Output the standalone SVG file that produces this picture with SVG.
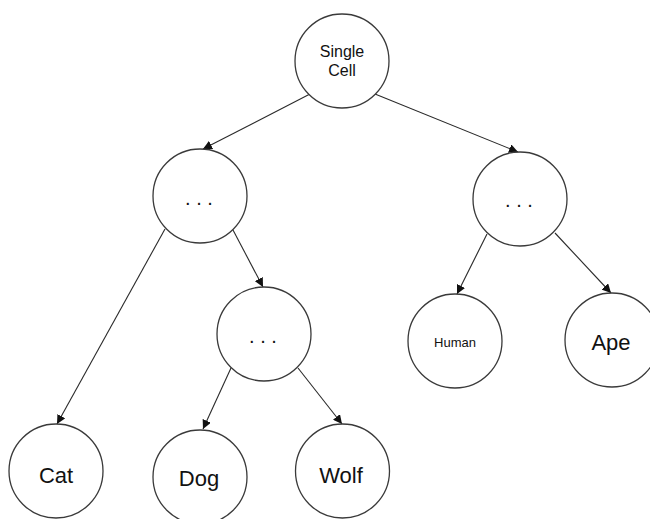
<svg xmlns="http://www.w3.org/2000/svg" width="650" height="519" viewBox="0 0 650 519">
  <style>
    .node circle { fill: #ffffff; stroke: #3a3a3a; stroke-width: 1.3; }
    .node text { font-family: "Liberation Sans", Arial, sans-serif; fill: #111111; text-anchor: middle; }
    .edge { stroke: #2a2a2a; stroke-width: 1.1; fill: none; marker-end: url(#arrow); }
  </style>
  <defs>
    <marker id="arrow" viewBox="0 0 10 10" refX="10" refY="5" markerWidth="9" markerHeight="9" markerUnits="userSpaceOnUse" orient="auto">
      <path d="M0,0 L10,5 L0,10 Z" fill="#111111"/>
    </marker>
  </defs>
  <rect width="650" height="519" fill="#ffffff"/>

  <g id="connectors">
    <line class="edge" x1="310" y1="94" x2="203" y2="149"/>
    <line class="edge" x1="375" y1="94" x2="518" y2="152"/>
    <line class="edge" x1="165" y1="229" x2="57" y2="424"/>
    <line class="edge" x1="233" y1="230" x2="263" y2="287"/>
    <line class="edge" x1="231" y1="368" x2="203" y2="429"/>
    <line class="edge" x1="298" y1="368" x2="342" y2="424"/>
    <line class="edge" x1="487" y1="234" x2="457" y2="294"/>
    <line class="edge" x1="555" y1="233" x2="611" y2="293"/>
  </g>

  <g id="single-cell" class="node">
    <circle cx="342" cy="61" r="47"/>
    <text x="342" y="57" font-size="16">Single</text>
    <text x="342" y="76" font-size="16">Cell</text>
  </g>
  <g id="branch-left" class="node">
    <circle cx="200" cy="196" r="47"/>
    <text x="199" y="205" font-size="20">. . .</text>
  </g>
  <g id="branch-right" class="node">
    <circle cx="520" cy="199" r="47"/>
    <text x="519" y="207" font-size="20">. . .</text>
  </g>
  <g id="branch-mid" class="node">
    <circle cx="264" cy="334" r="47"/>
    <text x="263" y="343" font-size="20">. . .</text>
  </g>
  <g id="human" class="node">
    <circle cx="455" cy="341" r="47"/>
    <text x="455" y="346.5" font-size="13">Human</text>
  </g>
  <g id="ape" class="node">
    <circle cx="612" cy="340" r="47"/>
    <text x="611" y="350" font-size="22">Ape</text>
  </g>
  <g id="cat" class="node">
    <circle cx="56" cy="471" r="47"/>
    <text x="56" y="482.5" font-size="22">Cat</text>
  </g>
  <g id="dog" class="node">
    <circle cx="200" cy="477" r="47"/>
    <text x="199" y="486" font-size="22">Dog</text>
  </g>
  <g id="wolf" class="node">
    <circle cx="342.5" cy="471" r="47"/>
    <text x="341" y="482.5" font-size="22">Wolf</text>
  </g>
</svg>
